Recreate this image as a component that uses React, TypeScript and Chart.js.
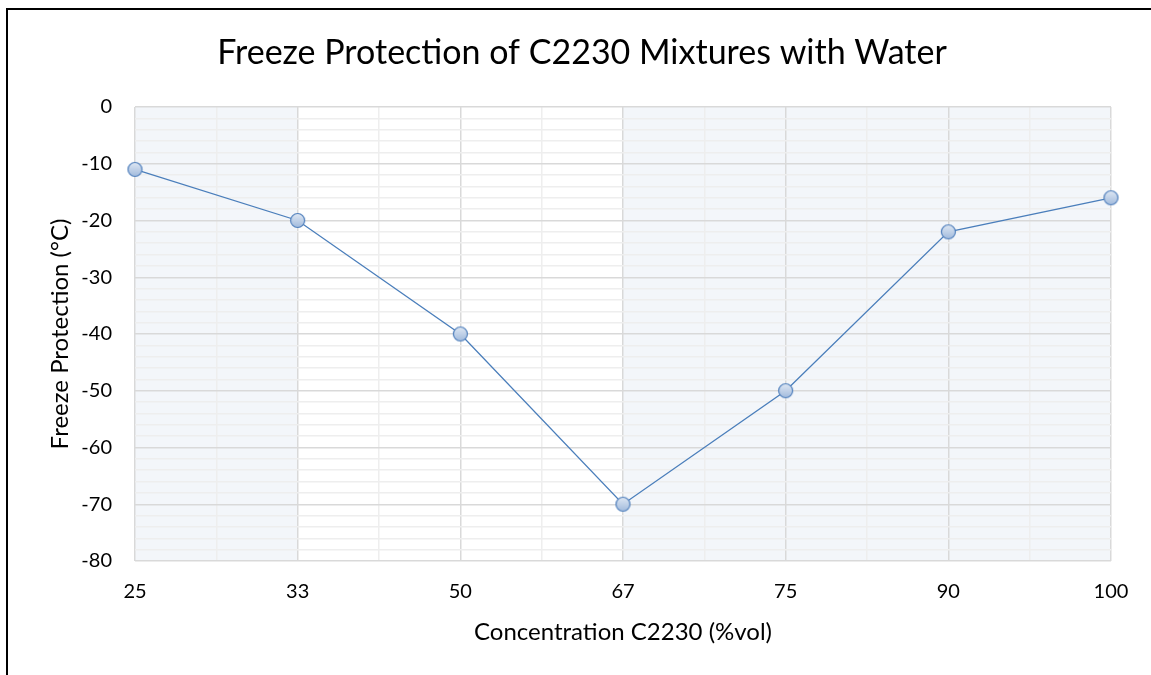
import React, { useEffect, useRef } from "react";
import { Chart, registerables } from "chart.js";

Chart.register(...registerables);

const categories = ["25", "33", "50", "67", "75", "90", "100"];
const freezeValues = [-11, -20, -40, -70, -50, -22, -16];
const yTicks = { min: -80, max: 0, major: 10, minor: 2 };
const shadedBands: [number, number][] = [
  [0, 1],
  [3, 6],
];
const chartTitle = "Freeze Protection of C2230 Mixtures with Water";

const FONT = "Lato, 'Noto Sans', sans-serif";

function makeMarker(): HTMLCanvasElement {
  const c = document.createElement("canvas");
  const s = 17;
  c.width = s;
  c.height = s;
  const ctx = c.getContext("2d")!;
  const g = ctx.createLinearGradient(0, 1, 0, s - 1);
  g.addColorStop(0, "#e1e9f4");
  g.addColorStop(1, "#9fb9dc");
  ctx.beginPath();
  ctx.arc(s / 2, s / 2, 7, 0, Math.PI * 2);
  ctx.fillStyle = g;
  ctx.fill();
  ctx.lineWidth = 1.2;
  ctx.strokeStyle = "#4f7fbc";
  ctx.stroke();
  return c;
}

const bgPlugin = {
  id: "bgBands",
  beforeDraw(chart: any) {
    const { ctx, chartArea, scales } = chart;
    ctx.save();
    ctx.fillStyle = "#ffffff";
    ctx.fillRect(0, 0, chart.width, chart.height);
    ctx.fillStyle = "#f3f6fa";
    for (const [a, b] of shadedBands) {
      const x1 = scales.x.getPixelForValue(a);
      const x2 = scales.x.getPixelForValue(b);
      ctx.fillRect(x1, chartArea.top, x2 - x1, chartArea.bottom - chartArea.top);
    }
    ctx.restore();
  },
  afterDraw(chart: any) {
    const { ctx } = chart;
    ctx.save();
    // chart title
    ctx.fillStyle = "#000";
    ctx.font = `34px ${FONT}`;
    ctx.textAlign = "center";
    ctx.textBaseline = "middle";
    ctx.fillText(chartTitle, 582, 53);
    // outer frame
    ctx.strokeStyle = "#000";
    ctx.lineWidth = 2;
    ctx.beginPath();
    ctx.moveTo(7, chart.height + 2);
    ctx.lineTo(7, 9);
    ctx.lineTo(chart.width + 2, 9);
    ctx.stroke();
    ctx.restore();
  },
};

export default function App() {
  const ref = useRef<HTMLCanvasElement>(null);
  useEffect(() => {
    const marker = makeMarker();
    const chart = new Chart(ref.current!, {
      type: "line",
      data: {
        datasets: [
          {
            label: "Freeze Protection",
            data: freezeValues.map((v, i) => ({ x: i, y: v })),
            borderColor: "#4a7ebb",
            borderWidth: 1.3,
            pointStyle: marker as any,
            pointRadius: 7,
            tension: 0,
            fill: false,
            clip: false as any,
          },
        ],
      },
      options: {
        responsive: false,
        animation: false,
        layout: { padding: { left: 0, right: 40, top: 107, bottom: 0 } },
        plugins: {
          legend: { display: false },
          tooltip: { enabled: false },
          title: { display: false },
        },
        scales: {
          x: {
            type: "linear",
            min: 0,
            max: categories.length - 1,
            afterFit: (s: any) => {
              s.height = 114;
            },
            afterBuildTicks: (s: any) => {
              const t = [];
              for (let v = 0; v <= categories.length - 1 + 1e-9; v += 0.5) t.push({ value: v });
              s.ticks = t;
            },
            ticks: {
              autoSkip: false,
              maxRotation: 0,
              padding: 19,
              color: "#000",
              font: { family: FONT, size: 20 },
              callback: (v: any) => (Number.isInteger(v) ? categories[v] : ""),
            },
            grid: {
              drawTicks: false,
              color: (c: any) => (Number.isInteger(c.tick.value) ? "#d9d9d9" : "#eeeeee"),
              lineWidth: 1.5,
            },
            border: { display: false },
            title: {
              display: true,
              text: "Concentration C2230 (%vol)",
              color: "#000",
              font: { family: FONT, size: 24 },
              padding: { top: 0, bottom: 28.6 },
            },
          },
          y: {
            min: yTicks.min,
            max: yTicks.max,
            afterFit: (s: any) => {
              s.width = 135;
            },
            ticks: {
              stepSize: yTicks.minor,
              autoSkip: false,
              padding: 23,
              color: "#000",
              font: { family: FONT, size: 20 },
              callback: (v: any) => (v % yTicks.major === 0 ? String(v) : ""),
            },
            grid: {
              drawTicks: false,
              color: (c: any) => (c.tick.value % yTicks.major === 0 ? "#d9d9d9" : "#eeeeee"),
              lineWidth: 1.5,
            },
            border: { display: false },
            title: {
              display: true,
              text: "Freeze Protection (°C)",
              color: "#000",
              font: { family: FONT, size: 24 },
              padding: { top: 45.6, bottom: 0 },
            },
          },
        },
      },
      plugins: [bgPlugin],
    });
    return () => chart.destroy();
  }, []);
  return (
    <div style={{ position: "absolute", left: 0, top: 0, width: 1151, height: 675 }}>
      <canvas ref={ref} width={1151} height={675} />
    </div>
  );
}
